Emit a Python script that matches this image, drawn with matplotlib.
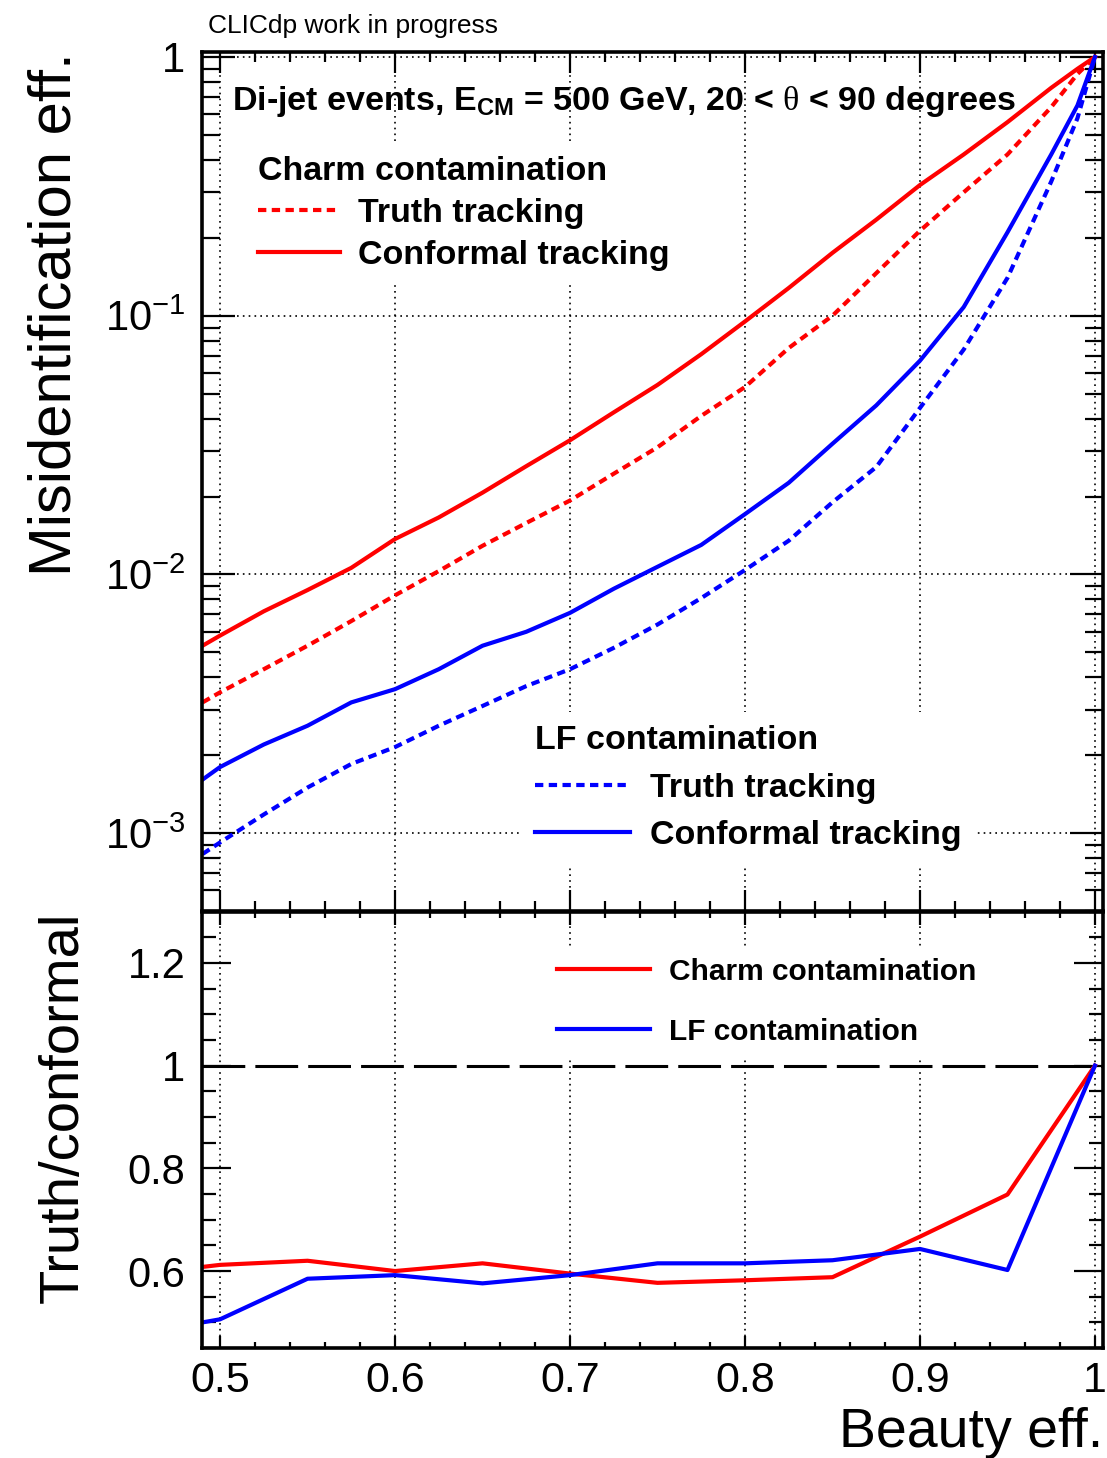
import matplotlib
matplotlib.use("Agg")
import matplotlib.pyplot as plt
import numpy as np

plt.rcParams['font.family'] = ['Liberation Sans', 'DejaVu Sans']
plt.rcParams['mathtext.fontset'] = 'custom'
plt.rcParams['mathtext.rm'] = 'Liberation Serif'
plt.rcParams['mathtext.bf'] = 'Liberation Sans:bold'
plt.rcParams['mathtext.sf'] = 'Liberation Sans'

# beauty efficiency (x) for the misid curves
beauty_eff = [0.49, 0.50, 0.525, 0.55, 0.575, 0.60, 0.625, 0.65, 0.675, 0.70, 0.725, 0.75,
              0.775, 0.80, 0.825, 0.85, 0.875, 0.90, 0.925, 0.95, 0.975, 0.99, 1.0]
charm_conformal = [0.0053, 0.0058, 0.0072, 0.0087, 0.0106, 0.0137, 0.0166, 0.0207, 0.0262, 0.033,
                   0.0423, 0.054, 0.071, 0.095, 0.128, 0.175, 0.235, 0.32, 0.42, 0.56, 0.76, 0.90, 1.0]
charm_truth = [0.0032, 0.0035, 0.0043, 0.0053, 0.0066, 0.0083, 0.0103, 0.0129, 0.0158, 0.0193,
               0.0245, 0.031, 0.041, 0.053, 0.075, 0.100, 0.146, 0.213, 0.30, 0.42, 0.64, 0.86, 1.0]
lf_conformal = [0.00161, 0.0018, 0.0022, 0.0026, 0.0032, 0.0036, 0.0043, 0.0053, 0.0060, 0.0071,
                0.0088, 0.0107, 0.0130, 0.0171, 0.0226, 0.032, 0.045, 0.067, 0.108, 0.21, 0.42, 0.65, 1.0]
lf_truth = [0.00083, 0.00092, 0.00118, 0.0015, 0.00185, 0.00215, 0.0026, 0.0031, 0.0037, 0.0043,
            0.0052, 0.0064, 0.0081, 0.0104, 0.0135, 0.019, 0.026, 0.044, 0.074, 0.14, 0.33, 0.58, 1.0]

# ratio panel
ratio_eff = [0.49, 0.50, 0.55, 0.60, 0.65, 0.70, 0.75, 0.80, 0.85, 0.90, 0.95, 1.0]
ratio_charm = [0.608, 0.612, 0.620, 0.600, 0.615, 0.595, 0.577, 0.582, 0.588, 0.667, 0.749, 1.0]
ratio_lf = [0.500, 0.506, 0.585, 0.592, 0.576, 0.592, 0.615, 0.615, 0.621, 0.643, 0.602, 1.0]

x_major = [0.5, 0.6, 0.7, 0.8, 0.9, 1.0]
x_labels = ['0.5', '0.6', '0.7', '0.8', '0.9', '1']
y_top_major = [1e-3, 1e-2, 1e-1, 1]
y_top_labels = [r'$\mathsf{10^{-3}}$', r'$\mathsf{10^{-2}}$', r'$\mathsf{10^{-1}}$', '1']
y_bot_major = [0.6, 0.8, 1.0, 1.2]
y_bot_labels = ['0.6', '0.8', '1', '1.2']

dotted = (0, (2.0, 1.3))

fig = plt.figure(figsize=(11.07, 14.58), dpi=100)
ax = fig.add_axes([0.1825, 0.3752, 0.8139, 0.5891])
axr = fig.add_axes([0.1825, 0.0754, 0.8139, 0.2994])

# top panel
l_ct, = ax.plot(beauty_eff, charm_truth, color='#ff0000', lw=3, linestyle=dotted)
l_cc, = ax.plot(beauty_eff, charm_conformal, color='#ff0000', lw=3)
l_lt, = ax.plot(beauty_eff, lf_truth, color='#0000ff', lw=3, linestyle=dotted)
l_lc, = ax.plot(beauty_eff, lf_conformal, color='#0000ff', lw=3)
ax.set_yscale('log')
ax.set_xlim(0.4897, 1.0046)
ax.set_ylim(5e-4, 1.045)

# bottom panel
r_c, = axr.plot(ratio_eff, ratio_charm, color='#ff0000', lw=3)
r_l, = axr.plot(ratio_eff, ratio_lf, color='#0000ff', lw=3)
axr.axhline(1.0, color='black', lw=2.2, dashes=(14, 3.3))
axr.set_xlim(0.4897, 1.0046)
axr.set_ylim(0.45, 1.30)

for a in (ax, axr):
    for s in a.spines.values():
        s.set_linewidth(2.6)
    a.set_xticks(x_major)
    a.set_xticks(np.arange(0.5, 1.001, 0.02), minor=True)
    a.grid(True, which='major', axis='x', color='black', lw=1.2, linestyle=(0, (1, 2.5)))
    a.tick_params(which='both', direction='in', top=True, right=True, width=1.6)

ax.grid(True, which='major', axis='y', color='black', lw=1.2, linestyle=(0, (1, 2.5)))
ax.set_yticks(y_top_major)
ax.set_yticklabels(y_top_labels)
ax.set_xticklabels([])
ax.xaxis.set_tick_params(which='major', length=15)
ax.xaxis.set_tick_params(which='minor', length=7)
ax.yaxis.set_tick_params(which='major', length=24, pad=12, labelsize=30)
ax.yaxis.set_tick_params(which='minor', length=13)

axr.set_yticks(y_bot_major)
axr.set_yticklabels(y_bot_labels)
axr.set_yticks(np.arange(0.45, 1.301, 0.05), minor=True)
axr.set_xticklabels(x_labels, fontsize=31)
axr.xaxis.set_tick_params(which='major', length=9, pad=9)
axr.xaxis.set_tick_params(which='minor', length=4.5)
axr.yaxis.set_tick_params(which='major', length=21, pad=12, labelsize=30)
axr.yaxis.set_tick_params(which='minor', length=10)

# axis titles
ax.set_ylabel('Misidentification eff.', loc='top', fontsize=43)
ax.yaxis.set_label_coords(-0.133, 1.0)
axr.set_ylabel('Truth/conformal', loc='top', fontsize=40.5)
axr.yaxis.set_label_coords(-0.125, 1.0)
axr.set_xlabel('Beauty eff.', loc='right', fontsize=40)
axr.xaxis.set_label_coords(1.0, -0.135)

fig.text(0.188, 1 - 33 / 1458, 'CLICdp work in progress', fontsize=19, va='baseline')
ax.text(0.033, 0.932, r'Di-jet events, E$_{\mathbf{CM}}$ = 500 GeV, 20 < $\mathrm{\theta}$ < 90 degrees',
        transform=ax.transAxes, fontsize=24.5, fontweight='bold', va='baseline')

bold = {'weight': 'bold', 'size': 24.5}
leg1 = ax.legend([l_ct, l_cc], ['Truth tracking', 'Conformal tracking'],
                 title='Charm contamination', title_fontproperties=bold, prop=bold,
                 alignment='left', loc='upper left', bbox_to_anchor=(0.047, 0.895),
                 frameon=True, facecolor='white', edgecolor='none', framealpha=1,
                 fancybox=False, handlelength=2.4, handletextpad=0.55, labelspacing=0.32,
                 borderpad=0.4, borderaxespad=0)
ax.add_artist(leg1)
ax.legend([l_lt, l_lc], ['Truth tracking', 'Conformal tracking'],
          title='LF contamination', title_fontproperties=bold, prop=bold,
          alignment='left', loc='upper left', bbox_to_anchor=(0.354, 0.232),
          frameon=True, facecolor='white', edgecolor='none', framealpha=1,
          fancybox=False, handlelength=2.8, handletextpad=0.6, labelspacing=0.48,
          borderpad=0.4, borderaxespad=0)

axr.legend([r_c, r_l], ['Charm contamination', 'LF contamination'],
           prop={'weight': 'bold', 'size': 21.5}, loc='upper left',
           bbox_to_anchor=(0.381, 0.922), frameon=True, facecolor='white',
           edgecolor='none', framealpha=1, fancybox=False, handlelength=3.1,
           handletextpad=0.65, labelspacing=1.08, borderpad=0.4, borderaxespad=0)

fig.savefig('out.png', dpi=100)
